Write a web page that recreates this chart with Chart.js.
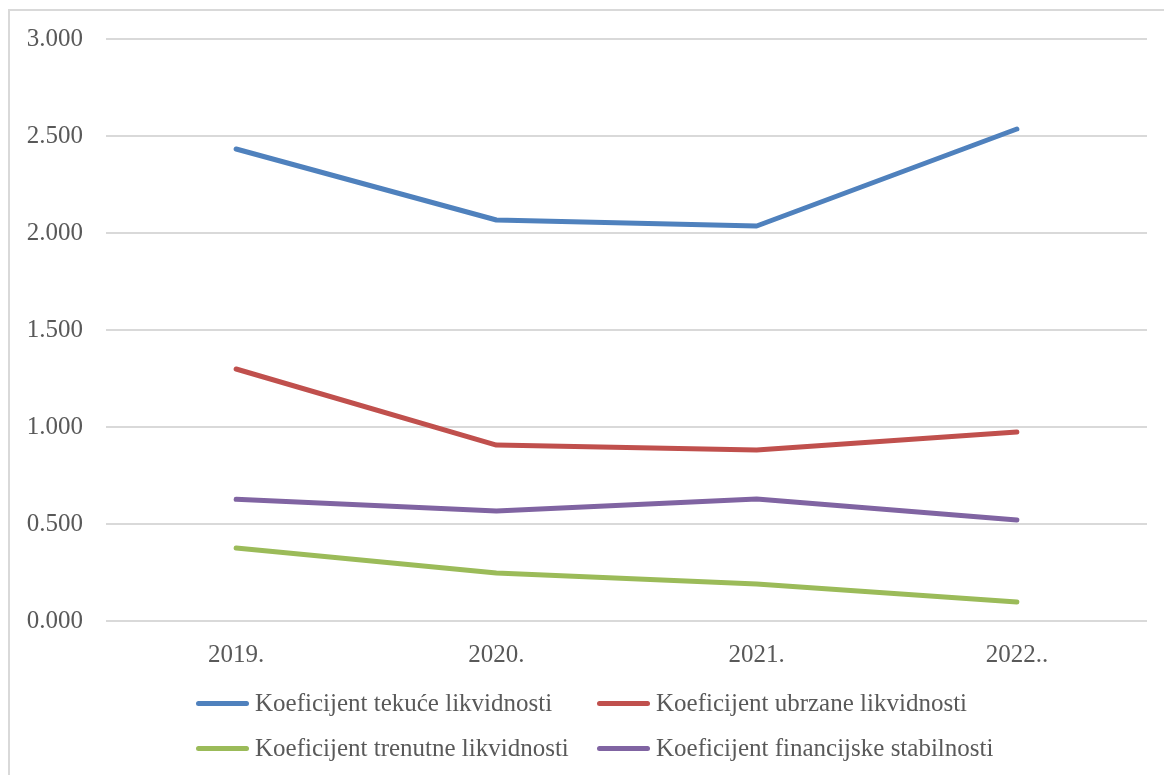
<!DOCTYPE html>
<html>
<head>
<meta charset="utf-8">
<script src="https://cdn.jsdelivr.net/npm/chart.js@4"></script>
<style>
  html, body { margin: 0; padding: 0; background: #fff; overflow: hidden; }
  #wrap { position: relative; width: 1164px; height: 775px; overflow: hidden; }
  #frame { position: absolute; left: 8px; top: 9px; width: 1200px; height: 820px; border: 2px solid #d9d9d9; box-sizing: border-box; }
  #chart { position: absolute; left: 0; top: 0; }
  .leg { position: absolute; display: flex; align-items: center; font-family: "Liberation Serif", serif; font-size: 25px; color: #595959; white-space: nowrap; }
  .leg span.sw { display: inline-block; width: 53px; height: 5px; border-radius: 3px; margin-right: 6px; }
</style>
</head>
<body>
<div id="wrap">
  <div id="frame"></div>
  <canvas id="chart" width="1164" height="775"></canvas>
</div>
<script>
/* --------------- Podaci --------------------- */
const years = ["2019.", "2020.", "2021.", "2022.."];
const tekuce = [2.433, 2.067, 2.036, 2.536];
const ubrzane = [1.299, 0.907, 0.881, 0.974];
const trenutne = [0.376, 0.247, 0.191, 0.098];
const financijske = [0.627, 0.567, 0.629, 0.521];

const seriesNames = [
  "Koeficijent tekuće likvidnosti",
  "Koeficijent ubrzane likvidnosti",
  "Koeficijent trenutne likvidnosti",
  "Koeficijent financijske stabilnosti",
];
const seriesColors = ["#4F81BD", "#C0504D", "#9BBB59", "#8064A2"];
const seriesData = [tekuce, ubrzane, trenutne, financijske];

const textColor = "#595959";
const fontFamily = "'Liberation Serif', serif";

/* --------------- Chart --------------------- */
const ctx = document.getElementById("chart");
new Chart(ctx, {
  type: "line",
  data: {
    labels: years,
    datasets: seriesNames.map((name, i) => ({
      label: name,
      data: seriesData[i],
      borderColor: seriesColors[i],
      backgroundColor: seriesColors[i],
      borderWidth: 5,
      borderCapStyle: "round",
      borderJoinStyle: "round",
      pointRadius: 0,
      tension: 0,
    })),
  },
  options: {
    responsive: false,
    animation: false,
    layout: { padding: { top: 39, right: 17, bottom: 104, left: 0 } },
    plugins: {
      legend: { display: false },
      tooltip: { enabled: false },
    },
    scales: {
      x: {
        offset: true,
        grid: { display: false, drawTicks: false },
        border: { display: false },
        ticks: { color: textColor, font: { family: fontFamily, size: 25 }, padding: 19 },
        afterFit: (s) => { s.height = 50; },
      },
      y: {
        min: 0,
        max: 3,
        grid: { color: "#d9d9d9", lineWidth: 2, drawTicks: false },
        border: { display: false },
        ticks: {
          stepSize: 0.5,
          color: textColor,
          font: { family: fontFamily, size: 25 },
          padding: 23,
          callback: (v) => v.toFixed(3),
        },
        afterFit: (s) => { s.width = 106; },
      },
    },
  },
});

/* --------------- Legenda (2 x 2) --------------------- */
const legendPos = [[196, 703], [597, 703], [196, 748], [597, 748]];
const wrap = document.getElementById("wrap");
seriesNames.forEach((name, i) => {
  const d = document.createElement("div");
  d.className = "leg";
  d.style.left = legendPos[i][0] + "px";
  d.style.top = (legendPos[i][1] - 16) + "px";
  d.style.height = "32px";
  d.innerHTML = `<span class="sw" style="background:${seriesColors[i]}"></span>${name}`;
  wrap.appendChild(d);
});
</script>
</body>
</html>
